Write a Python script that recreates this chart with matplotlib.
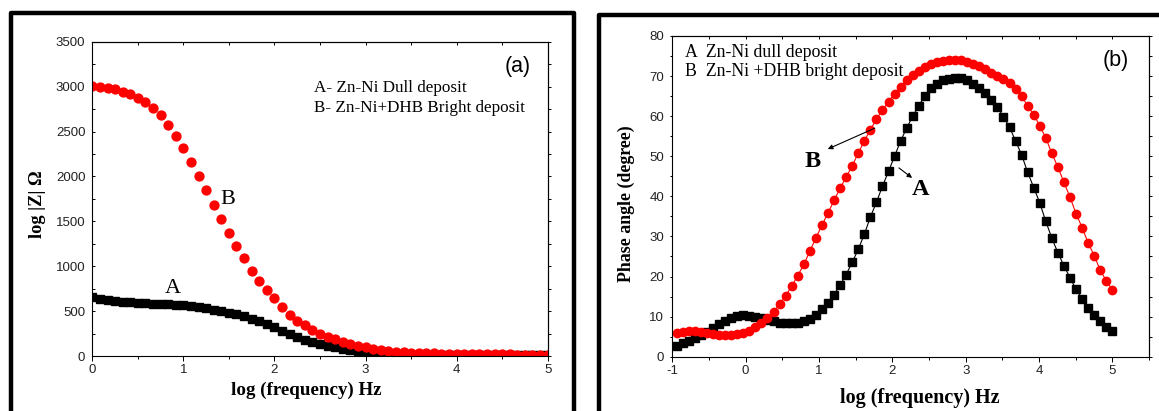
import matplotlib
matplotlib.use("Agg")
import matplotlib.pyplot as plt
from matplotlib.lines import Line2D
from matplotlib.ticker import MultipleLocator

plt.rcParams["axes.unicode_minus"] = False

# ---------------- data ----------------
# panel (a): log|Z| vs log f
logf_a = [0.0, 0.083, 0.167, 0.25, 0.333, 0.417, 0.5, 0.583, 0.667, 0.75, 0.833, 0.917,
          1.0, 1.083, 1.167, 1.25, 1.333, 1.417, 1.5, 1.583, 1.667, 1.75, 1.833, 1.917,
          2.0, 2.083, 2.167, 2.25, 2.333, 2.417, 2.5, 2.583, 2.667, 2.75, 2.833, 2.917,
          3.0, 3.083, 3.167, 3.25, 3.333, 3.417, 3.5, 3.583, 3.667, 3.75, 3.833, 3.917,
          4.0, 4.083, 4.167, 4.25, 4.333, 4.417, 4.5, 4.583, 4.667, 4.75, 4.833, 4.917, 5.0]
z_dull = [660, 640, 625, 612, 603, 596, 590, 586, 582, 578, 574, 570,
          563, 553, 542, 530, 515, 500, 480, 465, 445, 415, 385, 355,
          320, 280, 240, 210, 182, 158, 135, 115, 98, 82, 68, 55,
          42, 32, 25, 20, 18, 16, 15, 14, 13, 12, 12, 11,
          11, 10, 10, 10, 9, 9, 9, 9, 8, 8, 8, 8, 8]
z_bright = [3005, 3000, 2990, 2970, 2945, 2915, 2875, 2825, 2760, 2680, 2575, 2450,
            2315, 2160, 2010, 1845, 1685, 1530, 1370, 1230, 1090, 950, 830, 740,
            645, 545, 462, 395, 340, 290, 250, 215, 185, 158, 130, 110,
            95, 80, 68, 60, 50, 42, 38, 34, 30, 28, 26, 24,
            22, 21, 20, 19, 18, 18, 17, 17, 16, 16, 15, 15, 15]

# panel (b): phase angle vs log f
logf_b = [-0.94, -0.858, -0.775, -0.693, -0.61, -0.528, -0.445, -0.363, -0.28, -0.198,
          -0.115, -0.033, 0.05, 0.133, 0.215, 0.298, 0.38, 0.463, 0.545, 0.628,
          0.71, 0.793, 0.875, 0.958, 1.04, 1.123, 1.205, 1.288, 1.37, 1.453,
          1.535, 1.618, 1.7, 1.783, 1.865, 1.948, 2.03, 2.113, 2.195, 2.278,
          2.36, 2.443, 2.525, 2.608, 2.69, 2.773, 2.855, 2.938, 3.02, 3.103,
          3.185, 3.268, 3.35, 3.433, 3.515, 3.598, 3.68, 3.763, 3.845, 3.928,
          4.01, 4.093, 4.175, 4.258, 4.34, 4.423, 4.505, 4.588, 4.67, 4.753,
          4.835, 4.918, 5.0]
phase_dull = [2.7, 3.3, 4.0, 4.75, 5.4, 6.2, 7.2, 8.1, 8.9, 9.6,
              10.1, 10.3, 10.25, 10.0, 9.6, 9.2, 8.8, 8.5, 8.3, 8.3,
              8.5, 8.9, 9.5, 10.5, 11.8, 13.5, 15.5, 17.8, 20.5, 23.5,
              26.8, 30.5, 34.8, 38.5, 42.5, 46.2, 50.0, 53.8, 57.0, 60.0,
              62.6, 65.0, 67.0, 68.0, 68.9, 69.3, 69.6, 69.4, 68.9, 68.1,
              67.0, 65.7, 64.1, 62.3, 59.8, 57.3, 53.8, 50.4, 46.0, 42.2,
              38.4, 33.75, 29.6, 25.9, 22.7, 19.7, 16.8, 14.5, 12.2, 10.3,
              8.8, 7.5, 6.3]
phase_bright = [5.8, 6.2, 6.4, 6.3, 6.1, 5.8, 5.6, 5.4, 5.3, 5.4,
                5.6, 6.0, 6.5, 7.3, 8.3, 9.6, 11.2, 13.1, 15.2, 17.6,
                20.2, 23.0, 26.3, 29.6, 32.8, 35.8, 39.0, 42.0, 44.8, 47.6,
                50.8, 53.8, 56.6, 59.2, 61.6, 63.6, 65.6, 67.4, 68.9, 70.2,
                71.3, 72.2, 72.9, 73.4, 73.8, 74.0, 74.0, 73.9, 73.6, 73.1,
                72.5, 71.7, 70.8, 70.0, 69.3, 68.2, 66.8, 65.0, 62.6, 60.4,
                57.6, 54.6, 50.7, 47.3, 43.5, 39.8, 35.7, 32.2, 28.4, 25.2,
                21.6, 18.9, 16.7]

legend_a = ["A- Zn-Ni Dull deposit", "B- Zn-Ni+DHB Bright deposit"]
legend_b = ["A  Zn-Ni dull deposit", "B  Zn-Ni +DHB bright deposit"]

# ---------------- figure ----------------
W, H = 1159, 411
fig = plt.figure(figsize=(W / 100, H / 100), dpi=100)

def fx(px):
    return px / W

def fy(py):
    return 1 - py / H

SANS = "Liberation Sans"
SERIF = "Liberation Serif"
tick_kw = dict(labelsize=9.5, labelcolor="#222222", width=0.7, color="black")

# ---- panel (a) ----
ax1 = fig.add_axes([fx(92.3), fy(356), fx(547.7) - fx(92.3), fy(41.8) - fy(356)])
ax1.plot(logf_a, z_dull, ls="none", marker="s", ms=5.2, color="black", mec="black")
ax1.plot(logf_a, z_bright, ls="none", marker="o", ms=6.4, color="red", mec="red")
ax1.set_xlim(0, 5)
ax1.set_ylim(0, 3500)
ax1.xaxis.set_major_locator(MultipleLocator(1))
ax1.xaxis.set_minor_locator(MultipleLocator(0.5))
ax1.yaxis.set_major_locator(MultipleLocator(500))
ax1.yaxis.set_minor_locator(MultipleLocator(250))
ax1.tick_params(axis="x", which="major", direction="out", length=3.4, pad=2.5, **tick_kw)
ax1.tick_params(axis="x", which="minor", direction="out", length=2.4, width=0.7)
ax1.tick_params(axis="y", which="major", direction="in", length=1.8, pad=5, **tick_kw)
ax1.tick_params(axis="y", which="minor", direction="in", length=1.8, width=0.7)
for lab in ax1.get_xticklabels() + ax1.get_yticklabels():
    lab.set_fontfamily(SANS)
sec_top = ax1.secondary_xaxis("top")
sec_top.xaxis.set_major_locator(MultipleLocator(0.5))
sec_top.tick_params(direction="in", length=1.8, width=0.7, labeltop=False)
sec_right = ax1.secondary_yaxis("right")
sec_right.yaxis.set_major_locator(MultipleLocator(250))
sec_right.tick_params(direction="out", length=2.2, width=0.7, labelright=False)
for sp in list(ax1.spines.values()):
    sp.set_linewidth(0.8)

ax1.text(4.67, 3222, "(a)", family=SANS, fontsize=15.5, ha="center", va="center")
ax1.text(2.43, 2946, legend_a[0], family=SERIF, fontsize=12.3, ha="left", va="baseline")
ax1.text(2.43, 2723, legend_a[1], family=SERIF, fontsize=12.3, ha="left", va="baseline")
ax1.text(1.41, 1694, "B", family=SERIF, fontsize=16, ha="left", va="baseline")
ax1.text(0.80, 706, "A", family=SERIF, fontsize=16, ha="left", va="baseline")

fig.text(fx(306.5), fy(390.5), "log (frequency) Hz", family=SERIF, weight="bold",
         fontsize=13.7, ha="center", va="center")
fig.text(fx(37), fy(204.5), "log |Z| Ω", family=SERIF, weight="bold",
         fontsize=13.2, ha="center", va="center", rotation=90)

# ---- panel (b) ----
ax2 = fig.add_axes([fx(672.3), fy(356.7), fx(1149) - fx(672.3), fy(36) - fy(356.7)])
ax2.plot(logf_b, phase_dull, ls="-", lw=0.8, marker="s", ms=5.2, color="black")
ax2.plot(logf_b, phase_bright, ls="-", lw=0.8, marker="o", ms=6.0, color="red")
ax2.set_xlim(-1, 5.5)
ax2.set_ylim(0, 80)
ax2.xaxis.set_major_locator(MultipleLocator(1))
ax2.xaxis.set_minor_locator(MultipleLocator(0.5))
ax2.yaxis.set_major_locator(MultipleLocator(10))
ax2.yaxis.set_minor_locator(MultipleLocator(5))
ax2.set_xticks([-1, 0, 1, 2, 3, 4, 5])
ax2.tick_params(axis="x", which="major", direction="out", length=3.4, pad=2.5, **tick_kw)
ax2.tick_params(axis="x", which="minor", direction="out", length=2.4, width=0.7)
ax2.tick_params(axis="y", which="major", direction="out", length=1.8, pad=4, **tick_kw)
ax2.tick_params(axis="y", which="minor", direction="out", length=1.8, width=0.7)
for lab in ax2.get_xticklabels() + ax2.get_yticklabels():
    lab.set_fontfamily(SANS)
sec_top2 = ax2.secondary_xaxis("top")
sec_top2.xaxis.set_major_locator(MultipleLocator(0.5))
sec_top2.tick_params(direction="in", length=1.8, width=0.7, labeltop=False)
sec_right2 = ax2.secondary_yaxis("right")
sec_right2.yaxis.set_major_locator(MultipleLocator(5))
sec_right2.tick_params(direction="out", length=2.0, width=0.7, labelright=False)
for sp in list(ax2.spines.values()):
    sp.set_linewidth(0.8)

ax2.text(5.05, 73.8, "(b)", family=SANS, fontsize=15.5, ha="center", va="center")
ax2.text(-0.826, 74.8, legend_b[0], family=SERIF, fontsize=12.8, ha="left", va="baseline")
ax2.text(-0.826, 69.9, legend_b[1], family=SERIF, fontsize=12.8, ha="left", va="baseline")
ax2.text(0.81, 47.4, "B", family=SERIF, weight="bold", fontsize=17.5, ha="left", va="baseline")
ax2.text(2.26, 40.3, "A", family=SERIF, weight="bold", fontsize=17.5, ha="left", va="baseline")
ax2.annotate("", xy=(1.12, 51.8), xytext=(1.76, 57.0),
             arrowprops=dict(arrowstyle="-|>", lw=0.8, color="black",
                             mutation_scale=7, shrinkA=0, shrinkB=0))
ax2.annotate("", xy=(2.27, 44.6), xytext=(2.09, 47.1),
             arrowprops=dict(arrowstyle="-|>", lw=0.8, color="black",
                             mutation_scale=7, shrinkA=0, shrinkB=0))

fig.text(fx(919.5), fy(397.5), "log (frequency) Hz", family=SERIF, weight="bold",
         fontsize=14.5, ha="center", va="center")
fig.text(fx(626.4), fy(204), "Phase angle (degree)", family=SERIF, weight="bold",
         fontsize=12.9, ha="center", va="center", rotation=90)

# ---- panel frames ----
frame_kw = dict(color="black", lw=3.2, transform=fig.transFigure, solid_capstyle="projecting")
fig.add_artist(Line2D([fx(11), fx(11), fx(574.2), fx(574.2)],
                      [-0.05, fy(13.3), fy(13.3), -0.05], **frame_kw))
fig.add_artist(Line2D([fx(599.2), fx(599.2), 1.05],
                      [-0.05, fy(15), fy(15)], **frame_kw))

fig.savefig("out.png", dpi=100)
